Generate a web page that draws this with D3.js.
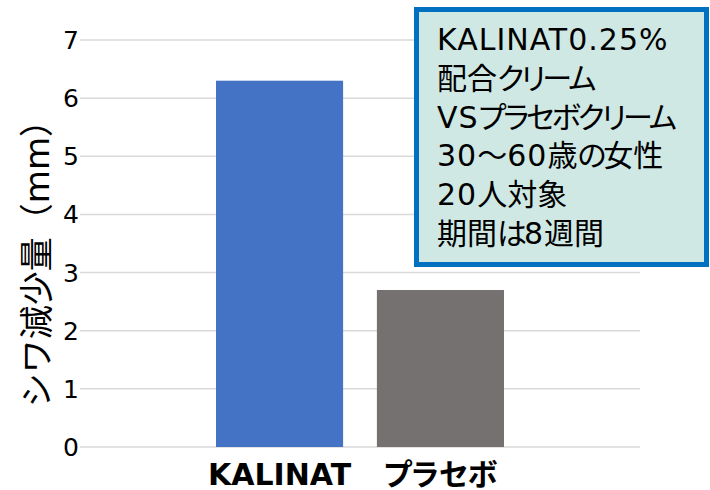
<!DOCTYPE html>
<html>
<head>
<meta charset="utf-8">
<script src="https://cdn.jsdelivr.net/npm/d3@7"></script>
<style>
    body { margin: 0; background: #fff; }
    svg text { font-family: "DejaVu Sans", "Noto Sans CJK JP", sans-serif; fill: #000; }
    .palt { font-feature-settings: "palt"; }
</style>
</head>
<body>
<svg id="chart" width="710" height="490"></svg>
<script>
/**
 * Data.
 */
const categories = ['KALINAT', 'プラセボ'],
    values = [6.3, 2.7],
    barColors = ['#4472c4', '#767171'],
    yTicks = [0, 1, 2, 3, 4, 5, 6, 7],
    yTitle = 'シワ減少量（mm）',
    noteLines = ['KALINAT0.25%', '配合クリーム', 'VSプラセボクリーム', '30～60歳の女性', '20人対象', '期間は8週間'];

/**
 * Visual configs.
 */
const plot = { left: 80, right: 640, top: 40, bottom: 447 };

const svg = d3.select('#chart');

const yScale = d3.scaleLinear().domain([0, 7]).range([plot.bottom, plot.top]);
const xScale = d3.scaleBand().domain(categories).range([216, 504]).paddingInner(0.21);

// Gridlines
svg.append('g').attr('class', 'grid')
    .selectAll('line').data(yTicks).enter().append('line')
    .attr('x1', plot.left).attr('x2', plot.right)
    .attr('y1', d => yScale(d)).attr('y2', d => yScale(d))
    .attr('stroke', '#d9d9d9').attr('stroke-width', 1.5);

// Tick labels
svg.append('g').attr('class', 'y-ticks')
    .selectAll('text').data(yTicks).enter().append('text')
    .attr('x', plot.left - 1)
    .attr('y', d => yScale(d))
    .attr('dy', '0.36em')
    .attr('text-anchor', 'end')
    .style('font-size', '25px')
    .text(d => d);

// Y title
svg.append('text')
    .attr('transform', 'translate(37,255) rotate(-90)')
    .attr('text-anchor', 'middle')
    .attr('dy', '0.36em')
    .style('font-size', '34px')
    .text(yTitle);

// Bars
svg.append('g').attr('class', 'bars')
    .selectAll('rect').data(values).enter().append('rect')
    .attr('x', (d, i) => xScale(categories[i]))
    .attr('width', xScale.bandwidth())
    .attr('y', d => yScale(d))
    .attr('height', d => yScale(0) - yScale(d))
    .attr('fill', (d, i) => barColors[i]);

// Category labels
svg.append('g').attr('class', 'x-labels')
    .selectAll('text').data(categories).enter().append('text')
    .attr('class', 'palt')
    .attr('x', d => xScale(d) + xScale.bandwidth() / 2)
    .attr('y', 485)
    .attr('text-anchor', 'middle')
    .style('font-size', '30px')
    .style('font-weight', 'bold')
    .text(d => d);

// Note box
const note = svg.append('g').attr('class', 'note');
note.append('rect')
    .attr('x', 416.5).attr('y', 9.5)
    .attr('width', 290).attr('height', 255)
    .attr('fill', '#cfe8e4')
    .attr('stroke', '#0070c0')
    .attr('stroke-width', 5);

// Split each line into latin / kana / other runs so spacing can follow the original font
function runs(s) {
    return s.match(/[\x00-\x7F]+|[\u3040-\u30FF]+|[^\x00-\x7F\u3040-\u30FF]+/g);
}
function runSpacing(r) {
    if (/^[\x00-\x7F]+$/.test(r)) return '1px';
    if (/^[\u3040-\u30FF]+$/.test(r)) return '-3px';
    return '0px';
}

note.selectAll('text').data(noteLines).enter().append('text')
    .attr('class', 'palt')
    .attr('x', 437)
    .attr('y', (d, i) => 50 + i * 38.8)
    .style('font-size', '30px')
    .selectAll('tspan').data(d => runs(d)).enter().append('tspan')
    .style('letter-spacing', runSpacing)
    .text(d => d);
</script>
</body>
</html>
